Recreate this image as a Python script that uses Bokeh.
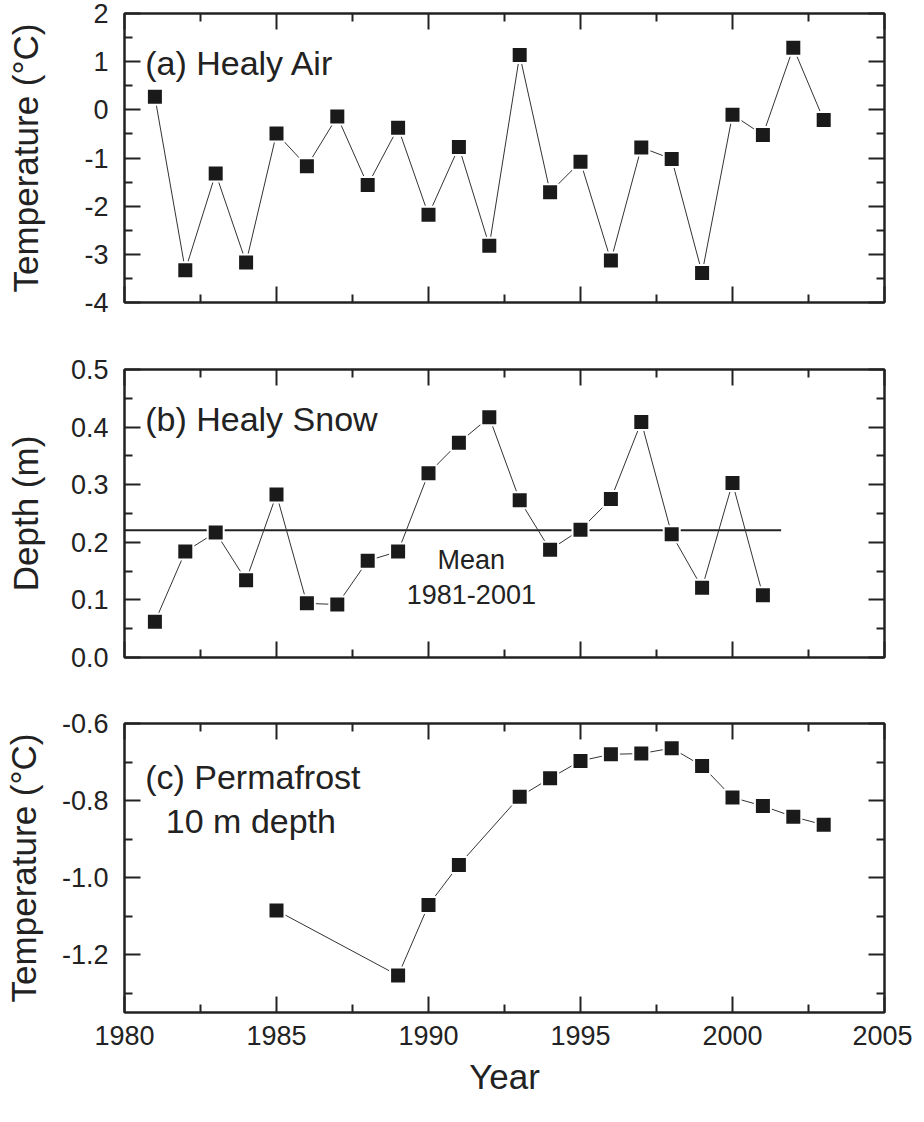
from bokeh.plotting import figure
from bokeh.layouts import column
from bokeh.models import (LinearAxis, FixedTicker, CustomJSTickFormatter,
                          NumeralTickFormatter, Range1d)
from bokeh.core.properties import value
from bokeh.embed import file_html
from bokeh.resources import INLINE
import numpy as np

# ---------------- data ----------------
years_air = list(range(1981, 2004))
air_temp = [0.27, -3.33, -1.32, -3.17, -0.49, -1.17, -0.14, -1.56, -0.37, -2.18,
            -0.77, -2.82, 1.14, -1.71, -1.08, -3.13, -0.78, -1.02, -3.39, -0.10,
            -0.52, 1.29, -0.21]

years_snow = list(range(1981, 2002))
snow_depth = [0.062, 0.184, 0.217, 0.134, 0.283, 0.094, 0.092, 0.168, 0.184, 0.320,
              0.373, 0.417, 0.273, 0.187, 0.222, 0.275, 0.409, 0.214, 0.121, 0.303,
              0.108]
mean_span = [1980, 2001.6]

years_pf = [1985, 1989, 1990, 1991, 1993, 1994, 1995, 1996, 1997, 1998, 1999,
            2000, 2001, 2002, 2003]
pf_temp = [-1.085, -1.254, -1.071, -0.967, -0.790, -0.742, -0.697, -0.680, -0.678,
           -0.664, -0.710, -0.792, -0.814, -0.842, -0.863]

x_ticks = [1980, 1985, 1990, 1995, 2000, 2005]
x_minor = [1982.5, 1987.5, 1992.5, 1997.5, 2002.5]
air_ticks = [-4, -3, -2, -1, 0, 1, 2]
air_minor = [-3.5, -2.5, -1.5, -0.5, 0.5, 1.5]
snow_ticks = [0.0, 0.1, 0.2, 0.3, 0.4, 0.5]
snow_minor = [0.05, 0.15, 0.25, 0.35, 0.45]
pf_ticks = [-1.2, -1.0, -0.8, -0.6]
pf_minor = [-1.3, -1.1, -0.9, -0.7]

INK = "#222222"
FONT = "Liberation Sans"
W = 912


def style_axis(ax):
    ax.axis_line_color = INK
    ax.axis_line_width = 2
    ax.major_tick_line_color = INK
    ax.major_tick_line_width = 2
    ax.minor_tick_line_color = INK
    ax.minor_tick_line_width = 2
    ax.major_tick_in = 16
    ax.major_tick_out = 0
    ax.minor_tick_in = 8
    ax.minor_tick_out = 0
    ax.major_label_text_font = FONT
    ax.major_label_text_color = INK
    ax.axis_label_text_font = FONT
    ax.axis_label_text_color = INK
    ax.axis_label_text_font_style = "normal"


def blank(ax):
    ax.formatter = CustomJSTickFormatter(code="return ''")
    ax.major_label_text_font_size = "1px"
    ax.major_label_standoff = 0


def panel(height, top, bottom, yr, yt, ym, yfmt, ylabel, ylab_standoff, xlabels):
    p = figure(width=W, height=height, x_range=Range1d(1980, 2005),
               y_range=Range1d(*yr), output_backend="svg", toolbar_location=None,
               min_border_left=117, min_border_right=28,
               min_border_top=top, min_border_bottom=bottom)
    p.xgrid.visible = False
    p.ygrid.visible = False
    p.outline_line_color = INK
    p.outline_line_width = 2
    p.background_fill_color = "white"
    p.border_fill_color = "white"

    xa = p.xaxis[0]
    xa.ticker = FixedTicker(ticks=x_ticks, minor_ticks=x_minor)
    style_axis(xa)
    if xlabels:
        xa.formatter = NumeralTickFormatter(format="0")
        xa.major_label_text_font_size = "27px"
        xa.major_label_standoff = 13
        xa.axis_label = "Year"
        xa.axis_label_text_font_size = "35px"
        xa.axis_label_standoff = 9
    else:
        blank(xa)

    ya = p.yaxis[0]
    ya.ticker = FixedTicker(ticks=yt, minor_ticks=ym)
    style_axis(ya)
    ya.formatter = NumeralTickFormatter(format=yfmt)
    ya.major_label_text_font_size = "27px"
    ya.major_label_standoff = 16
    ya.axis_label = ylabel
    ya.axis_label_text_font_size = "35px"
    ya.axis_label_standoff = ylab_standoff

    top_ax = LinearAxis(ticker=FixedTicker(ticks=x_ticks, minor_ticks=x_minor))
    style_axis(top_ax)
    blank(top_ax)
    p.add_layout(top_ax, "above")
    right_ax = LinearAxis(ticker=FixedTicker(ticks=yt, minor_ticks=ym))
    style_axis(right_ax)
    blank(right_ax)
    p.add_layout(right_ax, "right")
    return p


def series(p, x, y):
    p.line(x, y, line_color="#333333", line_width=1)
    p.scatter(x, y, marker="square", size=16, fill_color="#1a1a1a",
              line_color="white", line_width=2)


def label(p, x, y, txt, size, align="left"):
    p.text(x=[x], y=[y], text=[txt], text_font=value(FONT), text_font_size=size,
           text_color=INK, text_align=align, text_baseline="alphabetic")


# (a) Healy air
p1 = panel(335, 13, 33, (-4, 2), air_ticks, air_minor, "0",
           "Temperature (°C)", 36, False)
series(p1, years_air, air_temp)
label(p1, 1980.68, 0.98, "(a) Healy Air", "34px")

# (b) Healy snow
p2 = panel(355, 34, 33, (0, 0.5), snow_ticks, snow_minor, "0.0",
           "Depth (m)", 23, False)
snow_mean = float(np.mean(snow_depth))
p2.line(mean_span, [snow_mean, snow_mean], line_color=INK, line_width=2)
series(p2, years_snow, snow_depth)
label(p2, 1980.68, 0.414, "(b) Healy Snow", "34px")
label(p2, 1991.41, 0.170, "Mean", "27px", "center")
label(p2, 1991.41, 0.110, "1981-2001", "27px", "center")

# (c) Permafrost
p3 = panel(416, 33, 94, (-1.35, -0.6), pf_ticks, pf_minor, "0.0",
           "Temperature (°C)", 16, True)
series(p3, years_pf, pf_temp)
label(p3, 1980.68, -0.740, "(c) Permafrost", "34px")
label(p3, 1981.36, -0.853, "10 m depth", "34px")

layout = column(p1, p2, p3, spacing=0)
open("out.html", "w").write(file_html(layout, INLINE))
